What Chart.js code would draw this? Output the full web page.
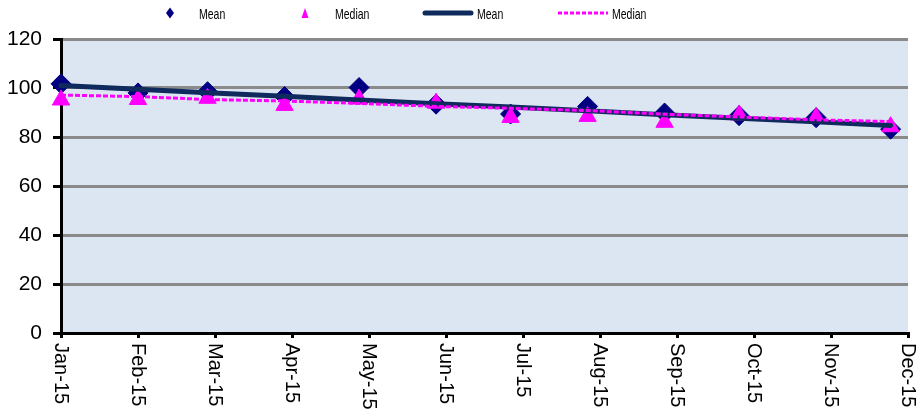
<!DOCTYPE html>
<html>
<head>
<meta charset="utf-8">
<script src="https://cdn.jsdelivr.net/npm/chart.js@4.4.1/dist/chart.umd.min.js"></script>
<style>
  html, body { margin: 0; padding: 0; background: #ffffff; }
  canvas { display: block; }
</style>
</head>
<body>
<canvas id="chart" width="920" height="417"></canvas>
<script>
// Monthly observation dates
const months = ['2015-01-01', '2015-02-01', '2015-03-01', '2015-04-01', '2015-05-01', '2015-06-01',
                '2015-07-01', '2015-08-01', '2015-09-01', '2015-10-01', '2015-11-01', '2015-12-01'];

// Axis tick labels (ticks every 31 days from 1 Jan)
const tickLabels = ['Jan-15', 'Feb-15', 'Mar-15', 'Apr-15', 'May-15', 'Jun-15',
                    'Jul-15', 'Aug-15', 'Sep-15', 'Oct-15', 'Nov-15', 'Dec-15'];
const TICK_STEP_DAYS = 31;

// Series values
const meanValues   = [101.7, 98.0, 98.5, 96.5, 100.2, 93.4, 89.4, 92.5, 89.8, 88.7, 87.9, 83.2];
const medianValues = [95.1, 95.3, 95.8, 92.9, 95.5, 93.8, 88.0, 88.4, 86.0, 89.0, 88.0, 84.2];

// Trend lines
const meanTrend   = [101.0, 99.5, 98.1, 96.6, 95.1, 93.6, 92.2, 90.7, 89.1, 87.7, 86.2, 84.7];
const medianTrend = [97.1, 96.5, 95.3, 94.7, 93.7, 92.5, 91.7, 90.8, 89.3, 88.2, 87.0, 86.3];

const seriesNames = ['Mean', 'Median', 'Mean', 'Median'];

const DAY_MS = 86400000;
const origin = Date.UTC(2015, 0, 1);
const dayOf = s => Math.round((Date.parse(s + 'T00:00:00Z') - origin) / DAY_MS);
const toPoints = vals => vals.map((v, i) => ({ x: dayOf(months[i]), y: v }));

const NAVY_MARK = '#000080';
const NAVY_LINE = '#0f2a5c';
const MAGENTA = '#ff00ff';
const FONT = '"Liberation Sans", Arial, sans-serif';

// Light blue plot area
const plotBackground = {
  id: 'plotBackground',
  beforeDraw(chart) {
    const { ctx, chartArea: a } = chart;
    ctx.save();
    ctx.fillStyle = '#dce6f2';
    ctx.fillRect(a.left, a.top, a.right - a.left, a.bottom - a.top);
    ctx.restore();
  }
};

// Vertical date labels reading top to bottom
const dateLabels = {
  id: 'dateLabels',
  afterDraw(chart) {
    const { ctx } = chart;
    const xs = chart.scales.x;
    ctx.save();
    ctx.fillStyle = '#000';
    ctx.font = '20px ' + FONT;
    ctx.textAlign = 'left';
    ctx.textBaseline = 'middle';
    xs.ticks.forEach((t, i) => {
      const px = xs.getPixelForValue(t.value);
      ctx.save();
      ctx.translate(px, xs.top + 10);
      ctx.rotate(Math.PI / 2);
      ctx.fillText(tickLabels[i], 0, 0);
      ctx.restore();
    });
    ctx.restore();
  }
};

// Legend row across the top
const topLegend = {
  id: 'topLegend',
  afterDraw(chart) {
    const { ctx } = chart;
    const names = chart.data.datasets.map(d => d.label);
    const cy = 13;
    ctx.save();

    const text = (str, x) => {
      ctx.save();
      ctx.translate(x, 19);
      ctx.scale(0.7, 1);
      ctx.fillStyle = '#000';
      ctx.font = '15px ' + FONT;
      ctx.textBaseline = 'alphabetic';
      ctx.fillText(str, 0, 0);
      ctx.restore();
    };

    // diamond marker
    ctx.fillStyle = NAVY_MARK;
    ctx.beginPath();
    ctx.moveTo(170, cy - 5.5);
    ctx.lineTo(174, cy);
    ctx.lineTo(170, cy + 5.5);
    ctx.lineTo(166, cy);
    ctx.closePath();
    ctx.fill();
    text(names[0], 199);

    // triangle marker
    ctx.fillStyle = MAGENTA;
    ctx.beginPath();
    ctx.moveTo(305, cy - 5);
    ctx.lineTo(308.5, cy + 5);
    ctx.lineTo(301.5, cy + 5);
    ctx.closePath();
    ctx.fill();
    text(names[1], 335);

    // solid line
    ctx.strokeStyle = NAVY_LINE;
    ctx.lineWidth = 5;
    ctx.lineCap = 'round';
    ctx.beginPath();
    ctx.moveTo(425, cy);
    ctx.lineTo(471, cy);
    ctx.stroke();
    text(names[2], 477);

    // dashed line
    ctx.strokeStyle = MAGENTA;
    ctx.lineWidth = 3;
    ctx.lineCap = 'butt';
    ctx.setLineDash([4, 2]);
    ctx.beginPath();
    ctx.moveTo(558, cy);
    ctx.lineTo(608, cy);
    ctx.stroke();
    ctx.setLineDash([]);
    text(names[3], 612);

    ctx.restore();
  }
};

new Chart(document.getElementById('chart'), {
  type: 'line',
  data: {
    datasets: [
      {
        label: seriesNames[0],
        data: toPoints(meanValues),
        showLine: false,
        pointStyle: 'rectRot',
        pointRadius: 10,
        pointBackgroundColor: NAVY_MARK,
        pointBorderColor: NAVY_MARK,
        pointBorderWidth: 1,
        clip: false,
        order: 4
      },
      {
        label: seriesNames[1],
        data: toPoints(medianValues),
        showLine: false,
        pointStyle: 'triangle',
        pointRadius: 10,
        pointBackgroundColor: MAGENTA,
        pointBorderColor: MAGENTA,
        pointBorderWidth: 1,
        clip: false,
        order: 3
      },
      {
        label: seriesNames[2],
        data: toPoints(meanTrend),
        borderColor: NAVY_LINE,
        borderWidth: 5,
        borderCapStyle: 'round',
        pointRadius: 0,
        tension: 0,
        clip: false,
        order: 2
      },
      {
        label: seriesNames[3],
        data: toPoints(medianTrend),
        borderColor: MAGENTA,
        borderWidth: 3,
        borderDash: [5, 2],
        pointRadius: 0,
        tension: 0,
        clip: false,
        order: 1
      }
    ]
  },
  options: {
    responsive: false,
    animation: false,
    devicePixelRatio: 1,
    layout: { padding: { top: 39, right: 12, left: 0, bottom: 0 }, autoPadding: false },
    plugins: {
      legend: { display: false },
      tooltip: { enabled: false }
    },
    scales: {
      x: {
        type: 'linear',
        min: 0,
        max: TICK_STEP_DAYS * (tickLabels.length - 1),
        afterBuildTicks(s) {
          s.ticks = tickLabels.map((_, i) => ({ value: i * TICK_STEP_DAYS }));
        },
        ticks: { display: false },
        grid: {
          drawOnChartArea: false,
          drawTicks: true,
          tickLength: 5,
          tickColor: '#000',
          lineWidth: 3
        },
        border: { color: '#000', width: 3 },
        afterFit(s) { s.height = 84; }
      },
      y: {
        min: 0,
        max: 120,
        ticks: {
          stepSize: 20,
          color: '#000',
          padding: 11,
          font: { family: FONT, size: 21 }
        },
        grid: {
          color: '#8a8a8a',
          lineWidth: 3,
          tickColor: '#000',
          tickLength: 8
        },
        border: { color: '#000', width: 3 },
        afterFit(s) { s.width = 61; }
      }
    }
  },
  plugins: [plotBackground, dateLabels, topLegend]
});
</script>
</body>
</html>
